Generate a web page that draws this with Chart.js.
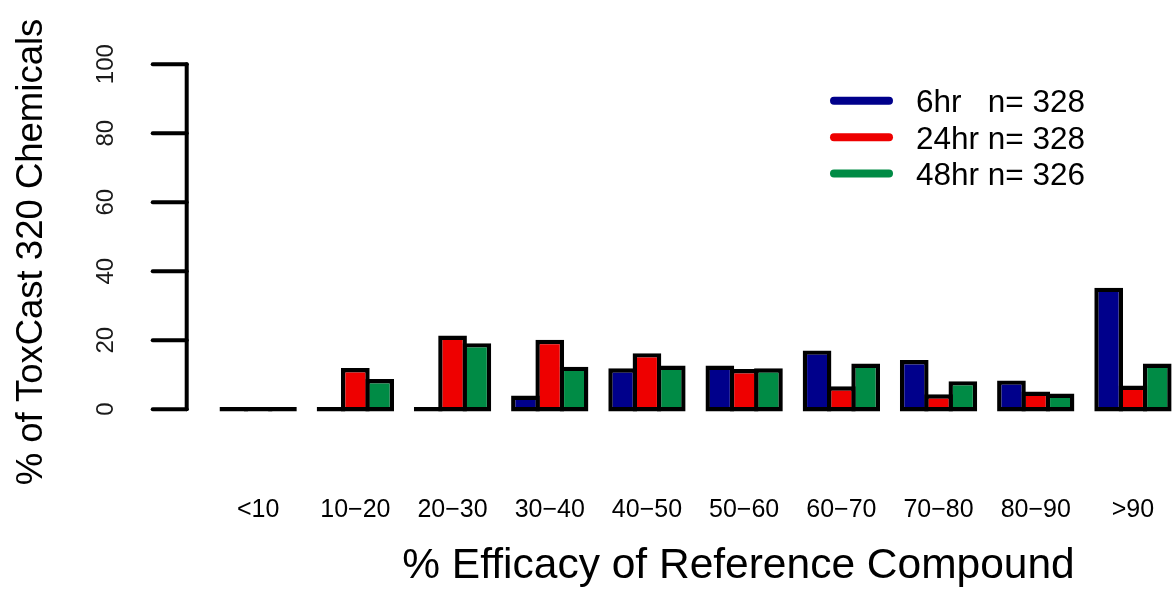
<!DOCTYPE html>
<html>
<head>
<meta charset="utf-8">
<script src="https://cdn.jsdelivr.net/npm/chart.js@4.4.1/dist/chart.umd.min.js"></script>
<style>
html, body { margin: 0; padding: 0; overflow: hidden; background: #fff; }
canvas { display: block; }
</style>
</head>
<body>
<canvas id="c" width="1190" height="589" style="width:1190px;height:589px"></canvas>
<script>
// ---- data ----
const categories = ['<10', '10\u221220', '20\u221230', '30\u221240', '40\u221250', '50\u221260', '60\u221270', '70\u221280', '80\u221290', '>90'];
const seriesLabels = ['6hr   n= 328', '24hr n= 328', '48hr n= 326'];
const values6hr  = [0, 0, 0, 3.3, 11.2, 12.0, 16.4, 13.6, 7.7, 34.6];
const values24hr = [0, 11.3, 20.7, 19.5, 15.6, 11.0, 6.0, 3.7, 4.5, 6.2];
const values48hr = [0, 8.1, 18.5, 11.7, 12.0, 11.2, 12.6, 7.5, 3.9, 12.6];
const yTickValues = [0, 20, 40, 60, 80, 100];
const yTitle = '% of ToxCast 320 Chemicals';
const xTitle = '% Efficacy of Reference Compound';

// ---- styles ----
const colors = ['#00008B', '#EE0000', '#008B45'];
const FONT = '"Liberation Sans", Arial, sans-serif';
const BORDER = 4.4;
const baseShift = -BORDER / 3.45; // extends bar outline below the zero line like a centred stroke

const dataSets = [values6hr, values24hr, values48hr].map((vals, i) => ({
  label: seriesLabels[i],
  data: vals,
  backgroundColor: colors[i],
  borderColor: '#000',
  borderWidth: BORDER,
  borderSkipped: false,
  inflateAmount: 0,
  base: baseShift,
  categoryPercentage: 0.75,
  barPercentage: (24.3 + BORDER) / 24.3,
  clip: false
}));

const decor = {
  id: 'decor',
  afterDraw(chart) {
    const ctx = chart.ctx;
    const y = chart.scales.y;
    const off = BORDER / 2;
    ctx.save();
    // y axis
    ctx.strokeStyle = '#000';
    ctx.lineWidth = 4;
    ctx.lineCap = 'round';
    const axX = 186.7;
    ctx.beginPath();
    ctx.moveTo(axX, y.getPixelForValue(yTickValues[0]) + off);
    ctx.lineTo(axX, y.getPixelForValue(yTickValues[yTickValues.length - 1]) + off);
    ctx.stroke();
    yTickValues.forEach(v => {
      const py = y.getPixelForValue(v) + off;
      ctx.beginPath();
      ctx.moveTo(152.7, py);
      ctx.lineTo(axX, py);
      ctx.stroke();
      ctx.save();
      ctx.translate(113.3, py);
      ctx.rotate(-Math.PI / 2);
      ctx.fillStyle = '#1a1a1a';
      ctx.font = '24px ' + FONT;
      ctx.textAlign = 'center';
      ctx.textBaseline = 'alphabetic';
      ctx.fillText(String(v), 0, 0);
      ctx.restore();
    });
    // y title
    ctx.save();
    ctx.translate(41.7, 252);
    ctx.rotate(-Math.PI / 2);
    ctx.fillStyle = '#000';
    ctx.font = '36.5px ' + FONT;
    ctx.textAlign = 'center';
    ctx.textBaseline = 'alphabetic';
    ctx.fillText(yTitle, 0, 0);
    ctx.restore();
    // x title
    ctx.fillStyle = '#000';
    ctx.font = '42.5px ' + FONT;
    ctx.textAlign = 'center';
    ctx.textBaseline = 'alphabetic';
    ctx.fillText(xTitle, 738.5, 578);
    // legend
    const rows = [100.8, 137.2, 173.6];
    chart.data.datasets.forEach((ds, i) => {
      ctx.strokeStyle = ds.backgroundColor;
      ctx.lineWidth = 8;
      ctx.lineCap = 'round';
      ctx.beginPath();
      ctx.moveTo(834, rows[i]);
      ctx.lineTo(889, rows[i]);
      ctx.stroke();
      ctx.fillStyle = '#000';
      ctx.font = '31.5px ' + FONT;
      ctx.textAlign = 'left';
      ctx.textBaseline = 'alphabetic';
      ctx.fillText(ds.label, 916, rows[i] + 11.5);
    });
    ctx.restore();
  }
};

new Chart(document.getElementById('c'), {
  type: 'bar',
  data: { labels: categories, datasets: dataSets },
  options: {
    responsive: false,
    animation: false,
    devicePixelRatio: 1,
    layout: { padding: { left: 209.55, right: 8.45, top: 62, bottom: 0 } },
    plugins: { legend: { display: false }, tooltip: { enabled: false } },
    scales: {
      x: {
        grid: { display: false, drawTicks: true, tickLength: 88 },
        border: { display: false },
        ticks: {
          color: '#000',
          font: { family: FONT, size: 25 },
          padding: 0,
          maxRotation: 0,
          minRotation: 0,
          autoSkip: false
        },
        afterFit(scale) {
          scale.paddingLeft = 0;
          scale.paddingRight = 0;
          scale.height = 182;
        }
      },
      y: {
        display: false,
        min: 0,
        max: 100,
        ticks: { stepSize: 20 }
      }
    }
  },
  plugins: [decor]
});
</script>
</body>
</html>
